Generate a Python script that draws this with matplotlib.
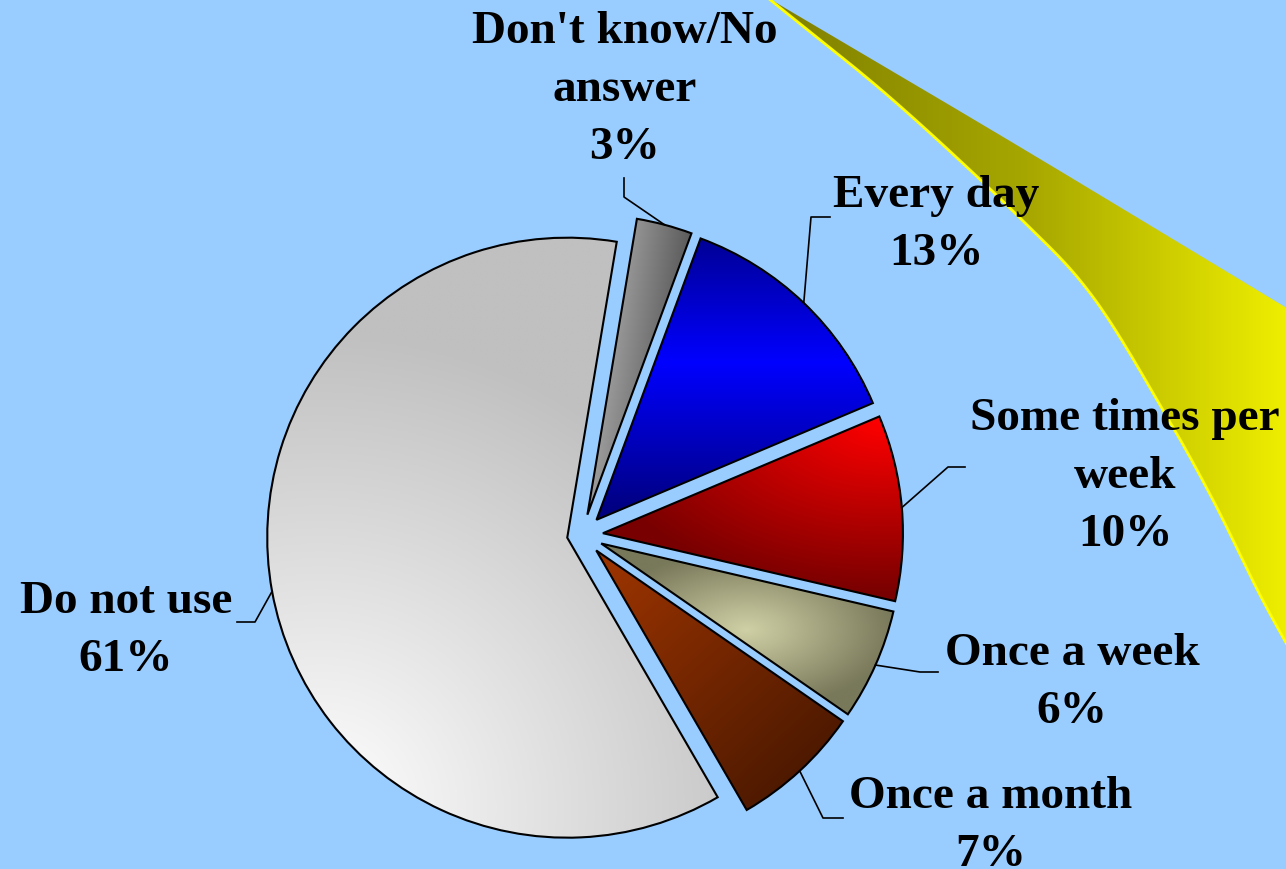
import numpy as np
import matplotlib
matplotlib.use("Agg")
import matplotlib.pyplot as plt
from matplotlib.colors import LinearSegmentedColormap
from matplotlib.path import Path
from matplotlib.patches import PathPatch

# ---------------- data ----------------
categories = ["Don't know/No answer", "Every day", "Some times per week",
              "Once a week", "Once a month", "Do not use"]
values = [3, 13, 10, 6, 7, 61]
label_lines = [["Don't know/No", "answer"], ["Every day"], ["Some times per", "week"],
               ["Once a week"], ["Once a month"], ["Do not use"]]

# ---------------- layout (image pixel coords) ----------------
W, H = 1286, 869
CX, CY, R = 582, 535, 300          # pie centre / radius in pixels
explode = [0.07, 0.07, 0.07, 0.07, 0.07, 0.05]
label_pos = [(625, 43), (936, 207), (1125, 430), (1072, 665), (991, 808), (126, 613)]  # first baseline
line_step = 58
leader_pts = [[(624, 197), (624, 178)],
              [(811, 217), (830, 217)],
              [(948, 467), (965, 467)],
              [(920, 672), (938, 672)],
              [(823, 818), (843, 818)],
              [(255, 622), (237, 622)]]
BG = '#99CCFF'


def dx(x):
    return (np.asarray(x, dtype=float) - CX) / R


def dy(y):
    return (CY - np.asarray(y, dtype=float)) / R


fig = plt.figure(figsize=(W / 100, H / 100), dpi=100)
fig.patch.set_facecolor(BG)
ax = fig.add_axes([0, 0, 1, 1])
ax.set_facecolor(BG)
ax.set_axis_off()


def grid(x0, y0, x1, y1, n=300):
    xs = np.linspace(x0, x1, n)
    ys = np.linspace(y0, y1, n)
    return np.meshgrid(xs, ys)


def gradient_fill(patch, func, colors, bbox=(240, 200, 930, 860), z=2):
    x0, y0, x1, y1 = bbox
    Xg, Yg = grid(x0, y0, x1, y1)
    T = np.clip(func(Xg, Yg), 0, 1)
    cmap = LinearSegmentedColormap.from_list('g', colors)
    im = ax.imshow(T, cmap=cmap, vmin=0, vmax=1,
                   extent=(dx(x0), dx(x1), dy(y1), dy(y0)), origin='upper',
                   interpolation='bilinear', aspect='auto', zorder=z)
    im.set_clip_path(patch)
    return im


# ---------------- decorative swoosh ----------------
def catmull(pts, n=30):
    pts = np.asarray(pts, float)
    P = np.vstack([pts[0] * 2 - pts[1], pts, pts[-1] * 2 - pts[-2]])
    out = []
    for i in range(1, len(P) - 2):
        p0, p1, p2, p3 = P[i - 1], P[i], P[i + 1], P[i + 2]
        for t in np.linspace(0, 1, n, endpoint=False):
            t2, t3 = t * t, t * t * t
            out.append(0.5 * ((2 * p1) + (-p0 + p2) * t + (2 * p0 - 5 * p1 + 4 * p2 - p3) * t2
                              + (-p0 + 3 * p1 - 3 * p2 + p3) * t3))
    out.append(P[-2])
    return np.array(out)


upper = catmull([(768, -2), (1020, 147), (1290, 310)])
lower = catmull([(768, -2), (893, 100), (1020, 218), (1093, 297), (1163, 410),
                 (1213, 500), (1259, 593), (1290, 650)])
poly = np.vstack([upper, [(1300, 310), (1300, 650)], lower[::-1]])
sw_path = Path(np.column_stack([dx(poly[:, 0]), dy(poly[:, 1])]))
sw_patch = PathPatch(sw_path, facecolor='none', edgecolor='none', zorder=1)
ax.add_patch(sw_patch)
gradient_fill(sw_patch, lambda X, Y: (X - 780) / (1286 - 780),
              ['#808000', '#A8A800', '#EEEE00'], bbox=(760, -5, 1300, 660), z=1)
ax.plot(dx(lower[:, 0]), dy(lower[:, 1]), color='#FFFF00', lw=2.0, zorder=1.5,
        solid_capstyle='round')

# ---------------- pie ----------------
wedges, _ = ax.pie(values, explode=explode, startangle=80.5, counterclock=False,
                   radius=1, center=(0, 0),
                   wedgeprops=dict(edgecolor='black', linewidth=1.5, facecolor='none'))

grad_funcs = [
    (lambda X, Y: (X - 598) / 95 + (Y - 230) / 700, ['#B8B8B8', '#5A5A5A']),
    (lambda X, Y: np.abs(Y - 362) / 150, ['#0000FF', '#000080']),
    (lambda X, Y: np.sqrt(((885 - X) / 300) ** 2 + ((Y - 420) / 175) ** 2), ['#FF0000', '#780000']),
    (lambda X, Y: np.sqrt(((X - 747) / 150) ** 2 + ((Y - 630) / 80) ** 2), ['#D0D0A6', '#78785A']),
    (lambda X, Y: (X - 610) / 260 * 0.6 + (Y - 570) / 240 * 0.6, ['#993300', '#4A1800']),
    (lambda X, Y: np.sqrt((X - 320) ** 2 + (Y - 810) ** 2) / 480, ['#FFFFFF', '#C0C0C0']),
]
for w, (f, cols) in zip(wedges, grad_funcs):
    w.set_zorder(3)
    gradient_fill(w, f, cols)

# ---------------- labels and leader lines ----------------
font = dict(family=['Liberation Serif', 'DejaVu Serif'], weight='bold', size=34, color='black')
for i, w in enumerate(wedges):
    th = np.deg2rad(0.5 * (w.theta1 + w.theta2))
    ax0 = w.center[0] + w.r * np.cos(th)
    ay0 = w.center[1] + w.r * np.sin(th)
    (ex, ey), (fx, fy) = leader_pts[i]
    ax.plot([ax0, dx(ex), dx(fx)], [ay0, dy(ey), dy(fy)], color='black', lw=1.2, zorder=4)
    lines = label_lines[i] + [f"{values[i]}%"]
    lx, ly = label_pos[i]
    for k, s in enumerate(lines):
        ax.text(dx(lx), dy(ly + k * line_step), s, ha='center', va='baseline', zorder=5, **font)

ax.set_xlim(dx(0), dx(W))
ax.set_ylim(dy(H), dy(0))
ax.set_aspect('auto')

fig.savefig('out.png', dpi=100, facecolor=BG)
